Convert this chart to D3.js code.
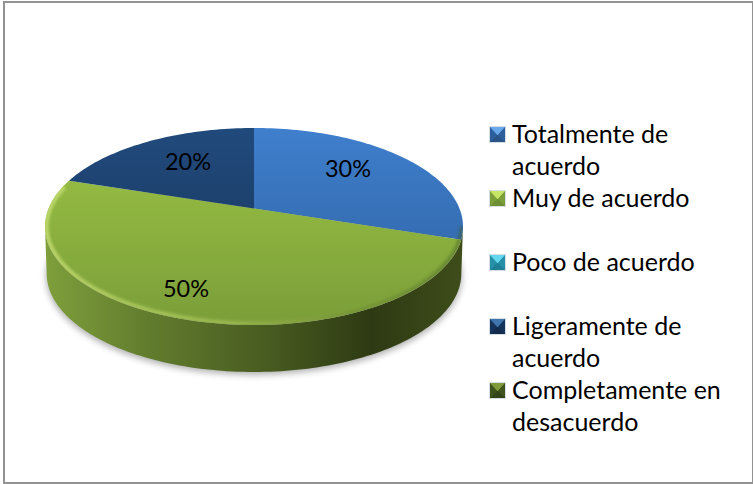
<!DOCTYPE html>
<html>
<head>
<meta charset="utf-8">
<script src="https://cdn.jsdelivr.net/npm/d3@7"></script>
<style>
html, body { margin: 0; padding: 0; background: #fff; }
svg { display: block; }
text { font-family: Lato, "Open Sans", sans-serif; fill: #000; }
</style>
</head>
<body>
<div id="chart"></div>
<script>
var categories = ["Totalmente de acuerdo", "Muy de acuerdo", "Poco de acuerdo", "Ligeramente de acuerdo", "Completamente en desacuerdo"];
var values = [30, 50, 0, 20, 0];
var legendLines = [["Totalmente de", "acuerdo"], ["Muy de acuerdo"], ["Poco de acuerdo"], ["Ligeramente de", "acuerdo"], ["Completamente en", "desacuerdo"]];
var sliceTop = ["#3f7fcd", "#9cc445", "#2fb4d0", "#214a7c", "#56702a"];
var sliceBottom = ["#2d5f9d", "#7b9e39", "#2590a8", "#16345a", "#3f531e"];
var markerLight = ["#69a8ea", "#c6e565", "#62d8ee", "#3f74ad", "#7f9c3a"];
var markerDark = ["#2a5488", "#6f8f33", "#1f7f96", "#132c4d", "#33441a"];

var svgWidth = 753;
var svgHeight = 484;

var cx = 254, cy = 226.5, rx = 209, ry = 98.5, depth = 47;
var tilt = -0.183; // perspective: moves the pie centre up from the ellipse centre

var svg = d3.select("#chart").append("svg")
    .attr("width", svgWidth)
    .attr("height", svgHeight);

svg.append("rect")
    .attr("x", 4).attr("y", 2)
    .attr("width", 749).attr("height", 481)
    .attr("fill", "#fff").attr("stroke", "#929292").attr("stroke-width", 2);

var defs = svg.append("defs");

values.forEach(function(v, i) {
    var g = defs.append("linearGradient")
        .attr("id", "top" + i)
        .attr("gradientUnits", "userSpaceOnUse")
        .attr("x1", 0).attr("x2", 0).attr("y1", cy - ry).attr("y2", cy + ry);
    g.append("stop").attr("offset", "0%").attr("stop-color", sliceTop[i]);
    g.append("stop").attr("offset", "100%").attr("stop-color", sliceBottom[i]);
});

var side = defs.append("linearGradient")
    .attr("id", "side")
    .attr("gradientUnits", "userSpaceOnUse")
    .attr("x1", cx - rx).attr("x2", cx + rx).attr("y1", 0).attr("y2", 0);
side.append("stop").attr("offset", "0%").attr("stop-color", "#7e9f3b");
side.append("stop").attr("offset", "25%").attr("stop-color", "#627c2e");
side.append("stop").attr("offset", "55%").attr("stop-color", "#46591f");
side.append("stop").attr("offset", "78%").attr("stop-color", "#2e3a13");
side.append("stop").attr("offset", "100%").attr("stop-color", "#3e4d1a");

var bevel = defs.append("linearGradient")
    .attr("id", "bevel")
    .attr("gradientUnits", "userSpaceOnUse")
    .attr("x1", cx - rx).attr("x2", cx + rx).attr("y1", 0).attr("y2", 0);
bevel.append("stop").attr("offset", "0%").attr("stop-color", "#cfe57a").attr("stop-opacity", 0.8);
bevel.append("stop").attr("offset", "45%").attr("stop-color", "#b8d265").attr("stop-opacity", 0.5);
bevel.append("stop").attr("offset", "80%").attr("stop-color", "#5c7426").attr("stop-opacity", 0.35);
bevel.append("stop").attr("offset", "100%").attr("stop-color", "#3e5a20").attr("stop-opacity", 0.5);

defs.append("filter").attr("id", "blur")
    .attr("x", "-10%").attr("y", "-10%").attr("width", "120%").attr("height", "120%")
    .append("feGaussianBlur").attr("stdDeviation", 3);
defs.append("filter").attr("id", "soft")
    .attr("filterUnits", "userSpaceOnUse")
    .attr("x", 20).attr("y", 100).attr("width", 470).attr("height", 260)
    .append("feGaussianBlur").attr("stdDeviation", 1.5);
defs.append("clipPath").attr("id", "disc")
    .append("ellipse")
    .attr("cx", cx).attr("cy", cy).attr("rx", rx).attr("ry", ry);

// pie angle -> point on the tilted disc
function project(a) {
    var x = Math.sin(a), y = -Math.cos(a);
    var w = 1 + tilt * y;
    return [cx + rx * x * Math.sqrt(1 - tilt * tilt) / w,
            cy + ry * (y + tilt) / w];
}

function arcPoints(a0, a1) {
    var n = Math.max(2, Math.ceil((a1 - a0) * 40));
    return d3.range(n + 1).map(function(k) {
        return project(a0 + (a1 - a0) * k / n);
    });
}

var line = d3.line();
var pie = d3.pie().sort(null).value(function(d) { return d; });
var arcs = pie(values);
var apex = [cx, cy + ry * tilt];

// soft shadow under the disc
svg.append("ellipse")
    .attr("cx", cx).attr("cy", cy + depth + 3)
    .attr("rx", rx - 1).attr("ry", ry)
    .attr("fill", "#555").attr("opacity", 0.45)
    .attr("filter", "url(#blur)");

// side wall: front half of the rim, pulled down by depth
var rim = d3.range(0, 121).map(function(k) {
    var t = k / 120;
    return [cx + rx * Math.cos(Math.PI * t), cy + ry * Math.sin(Math.PI * t)];
});
var wallPath = rim.map(function(p) { return [cx + (p[0] - cx) * 0.992, p[1] + depth]; })
    .concat(rim.slice().reverse());
svg.append("path")
    .attr("d", line(wallPath) + "Z")
    .attr("fill", "url(#side)");

// top faces
svg.selectAll("path.slice")
    .data(arcs.filter(function(d) { return d.value > 0; }))
    .enter()
    .append("path")
    .attr("class", "slice")
    .attr("d", function(d) {
        return line([apex].concat(arcPoints(d.startAngle, d.endAngle))) + "Z";
    })
    .attr("fill", function(d) { return "url(#top" + d.index + ")"; });

// bevel along the front edge of the top, running up the left side to the navy slice
var bevelPath = d3.range(0, 141).map(function(k) {
    var t = (Math.PI + 0.42) * k / 140;
    return [cx + (rx - 1.5) * Math.cos(t), cy + (ry - 1.5) * Math.sin(t)];
});
svg.append("g")
    .attr("clip-path", "url(#disc)")
    .append("path")
    .attr("d", line(bevelPath))
    .attr("fill", "none")
    .attr("stroke", "url(#bevel)")
    .attr("stroke-width", 4)
    .attr("filter", "url(#soft)");

// percent labels
var labelPos = [[348, 177], [186, 297], null, [188, 170], null];
var total = d3.sum(values);
values.forEach(function(v, i) {
    if (!v) return;
    svg.append("text")
        .attr("x", labelPos[i][0]).attr("y", labelPos[i][1])
        .attr("text-anchor", "middle")
        .attr("font-size", 23.5)
        .text(Math.round(v / total * 100) + "%");
});

// legend
var legendBase = [143, 207, 271, 335, 399];
var lineGap = 32;
var ms = 15;
legendLines.forEach(function(lines, i) {
    var g = svg.append("g").attr("transform", "translate(490," + (legendBase[i] - 1 - ms) + ")");
    g.append("rect").attr("x", -0.5).attr("y", -0.5).attr("width", ms + 1).attr("height", ms + 1)
        .attr("fill", "none").attr("stroke", "#d5dde5");
    g.append("rect").attr("width", ms).attr("height", ms).attr("fill", sliceBottom[i]);
    g.append("path")
        .attr("d", line([[0, ms], [ms, ms], [ms / 2, ms / 2]]) + "Z")
        .attr("fill", markerDark[i]);
    g.append("path")
        .attr("d", line([[0, 0], [ms, 0], [ms / 2, ms * 0.55]]) + "Z")
        .attr("fill", markerLight[i]);
    lines.forEach(function(t, j) {
        svg.append("text")
            .attr("x", 512).attr("y", legendBase[i] + j * lineGap)
            .attr("font-size", 25)
            .text(t);
    });
});
</script>
</body>
</html>
